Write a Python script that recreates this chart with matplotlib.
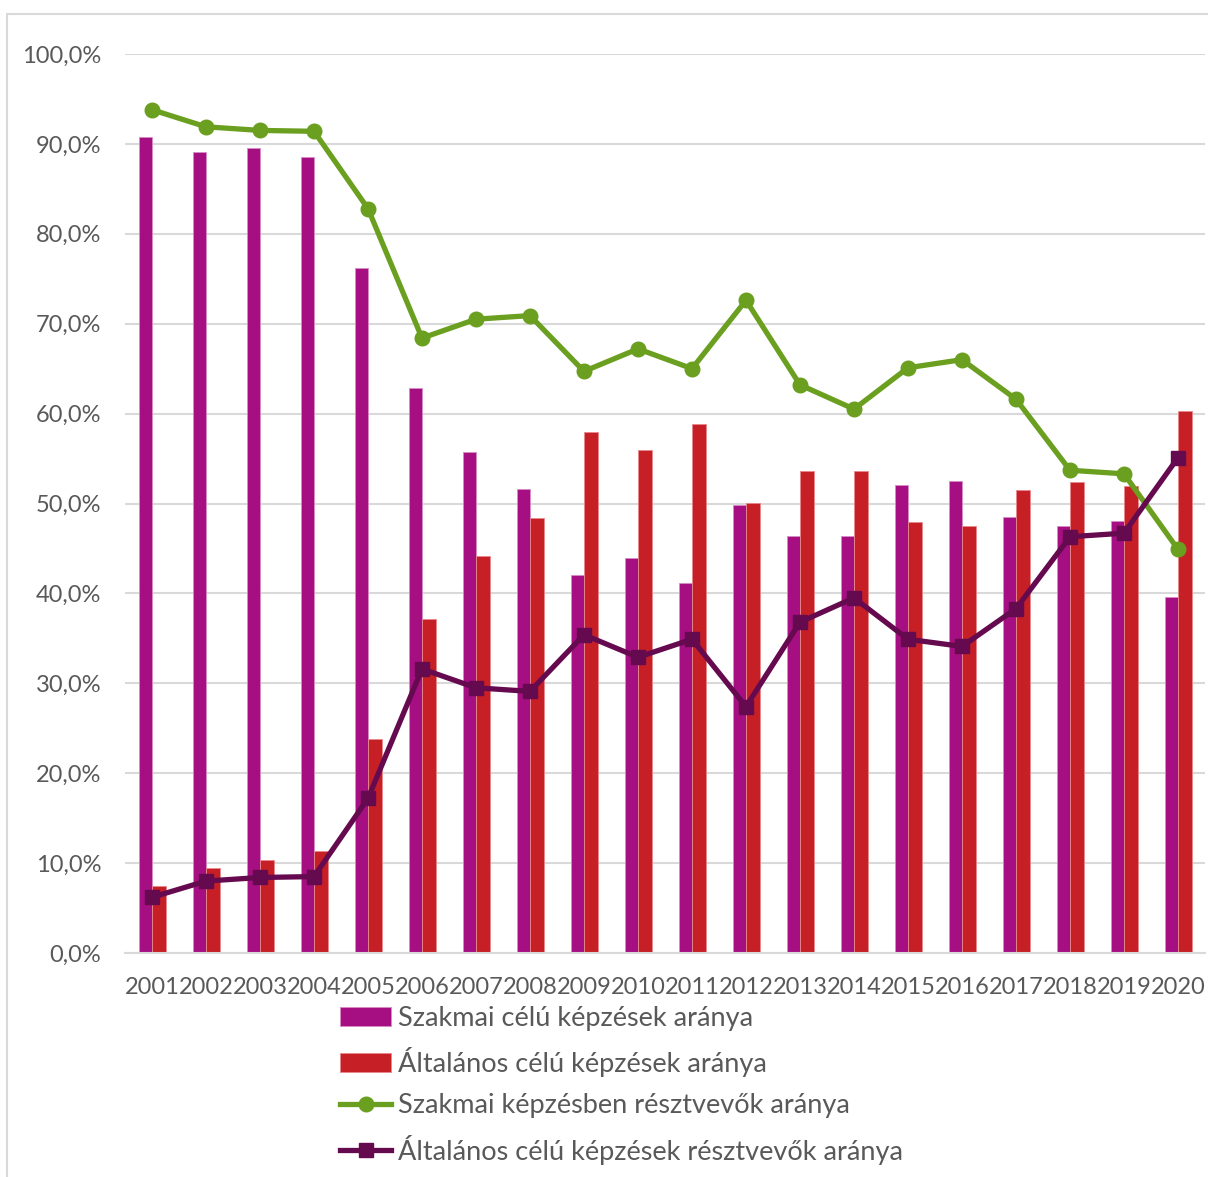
import numpy as np
import matplotlib.pyplot as plt
from matplotlib.patches import Rectangle

years = [str(y) for y in range(2001, 2021)]

# Szakmai célú képzések aránya (%)
szakmai_kepzesek = [90.8, 89.1, 89.5, 88.5, 76.2, 62.8, 55.7, 51.6, 42.0, 43.9,
                    41.2, 49.8, 46.4, 46.4, 52.1, 52.5, 48.5, 47.5, 48.0, 39.6]
# Általános célú képzések aránya (%)
altalanos_kepzesek = [7.5, 9.5, 10.3, 11.3, 23.8, 37.1, 44.2, 48.4, 57.9, 56.0,
                      58.8, 50.1, 53.6, 53.6, 47.9, 47.5, 51.5, 52.4, 51.9, 60.3]
# Szakmai képzésben résztvevők aránya (%)
szakmai_resztvevok = [93.8, 91.9, 91.5, 91.4, 82.8, 68.4, 70.5, 70.9, 64.7, 67.2,
                      65.0, 72.6, 63.2, 60.5, 65.1, 66.0, 61.6, 53.7, 53.3, 44.9]
# Általános célú képzések résztvevők aránya (%)
altalanos_resztvevok = [6.2, 8.0, 8.4, 8.5, 17.2, 31.6, 29.5, 29.1, 35.4, 32.9,
                        34.9, 27.4, 36.8, 39.5, 34.9, 34.1, 38.3, 46.3, 46.7, 55.1]

plt.rcParams['font.family'] = ['Lato', 'DejaVu Sans']
TEXT = '#595959'
W, H = 1208, 1177

fig = plt.figure(figsize=(W / 100, H / 100), dpi=100)
ax = fig.add_axes([125 / W, 1 - 953 / H, 1080 / W, 899 / H])

x = np.arange(len(years))
bw = 0.25
b1 = ax.bar(x - bw / 2, szakmai_kepzesek, bw, color='#A50F82', edgecolor='#D98CC6',
            linewidth=0.6, label='Szakmai célú képzések aránya', zorder=2)
b2 = ax.bar(x + bw / 2, altalanos_kepzesek, bw, color='#C62026', edgecolor='#E8898C',
            linewidth=0.6, label='Általános célú képzések aránya', zorder=2)
l1, = ax.plot(x, szakmai_resztvevok, color='#6A9F1F', lw=3.8, marker='o', ms=10.5,
              label='Szakmai képzésben résztvevők aránya', zorder=3)
l2, = ax.plot(x, altalanos_resztvevok, color='#650A4F', lw=3.8, marker='s', ms=10.5,
              label='Általános célú képzések résztvevők aránya', zorder=4)

ax.set_xlim(-0.5, len(years) - 0.5)
ax.set_ylim(0, 100)
ax.set_yticks(np.arange(0, 101, 10))
ax.set_yticklabels([f'{v},0%' for v in range(0, 101, 10)])
ax.set_xticks(x)
ax.set_xticklabels(years)
ax.grid(axis='y', color='#D9D9D9', lw=1.5, zorder=0)
ax.set_axisbelow(True)
for s in ['top', 'right', 'left']:
    ax.spines[s].set_visible(False)
ax.spines['bottom'].set_color('#D9D9D9')
ax.spines['bottom'].set_linewidth(1.5)
ax.tick_params(length=0, colors=TEXT, labelsize=17)
ax.tick_params(axis='x', pad=17)
ax.tick_params(axis='y', pad=17)

fig.legend(handles=[b1, b2, l1, l2], loc='upper left',
           bbox_to_anchor=(340 / W, 1 - 1006 / H), frameon=False,
           fontsize=19.5, labelcolor=TEXT, handlelength=1.9, handletextpad=0.25,
           labelspacing=0.6, borderaxespad=0, borderpad=0)

fig.patches.append(Rectangle((7.5 / W, -0.01), 1.1, 1 - 13.5 / H + 0.01,
                             transform=fig.transFigure, fill=False,
                             edgecolor='#D9D9D9', lw=1.5))

fig.savefig('out.png', dpi=100)
